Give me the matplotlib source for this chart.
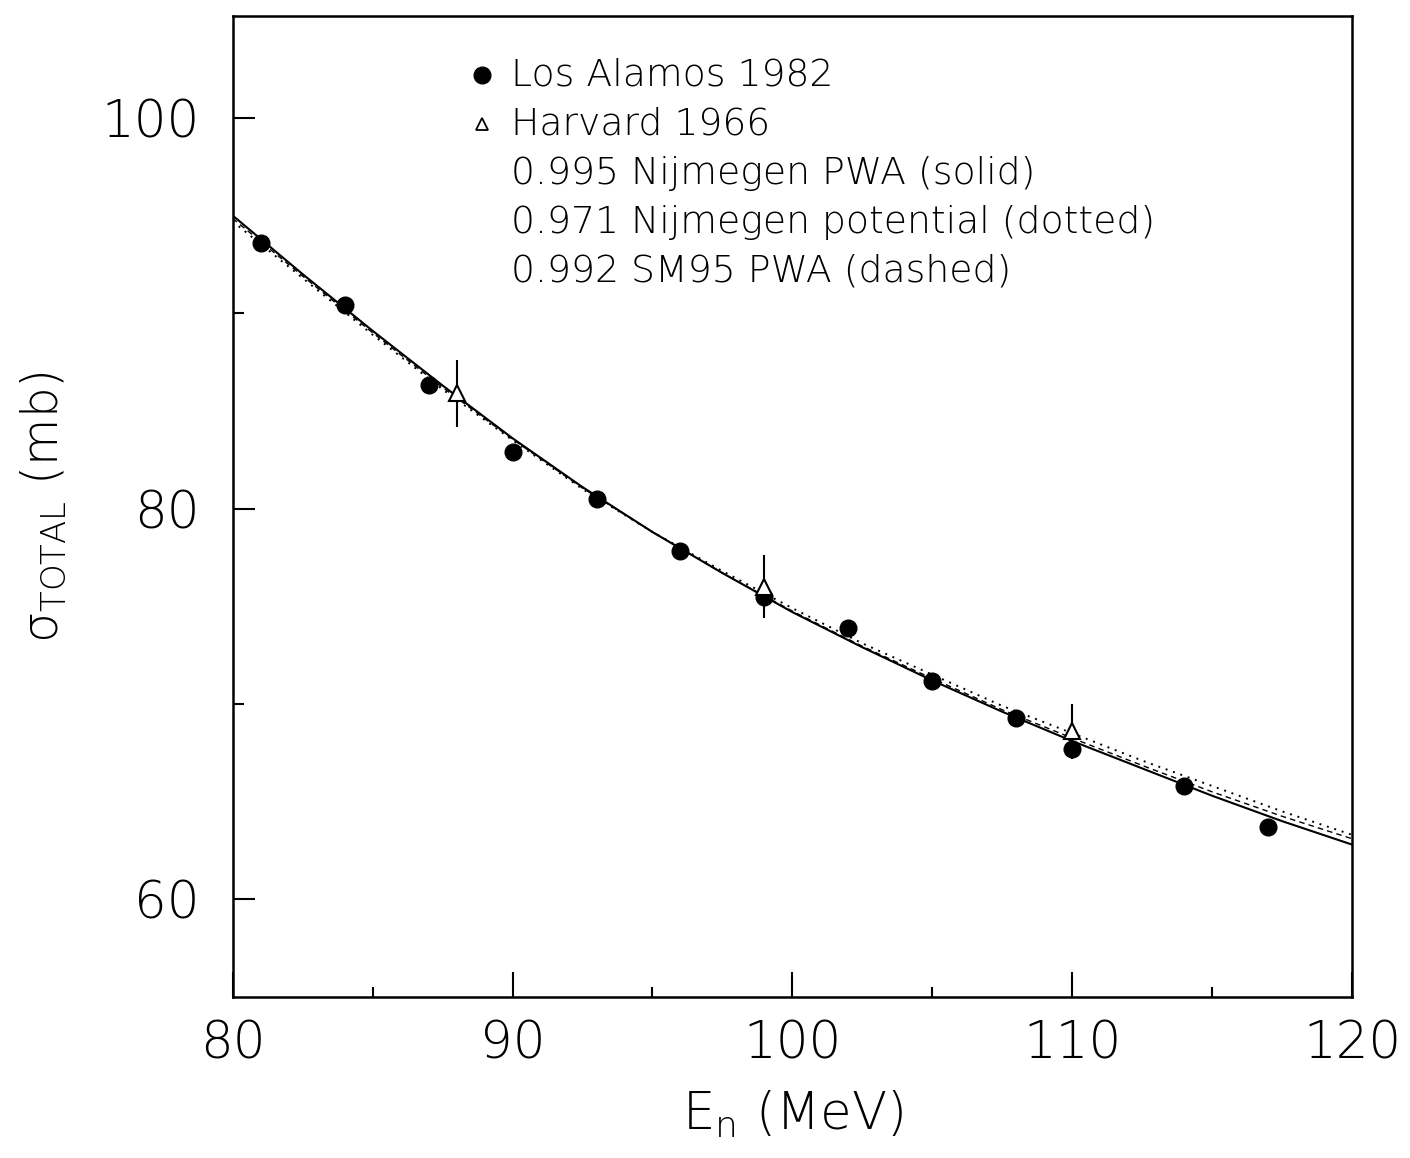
import numpy as np
import matplotlib
matplotlib.use("Agg")
import matplotlib.pyplot as plt
from matplotlib.ticker import MultipleLocator

# Los Alamos 1982 data
la_energy = [81, 84, 87, 90, 93, 96, 99, 102, 105, 108, 110, 114, 117]
la_sigma = [93.6, 90.4, 86.3, 82.9, 80.5, 77.85, 75.45, 73.9, 71.15, 69.3, 67.7, 65.8, 63.7]

# Harvard 1966 data
hv_energy = [88, 99, 110]
hv_sigma = [85.9, 76.0, 68.6]
hv_err = [1.7, 1.6, 1.4]

# model curves
curve_e = [80, 82.5, 85, 87.5, 90, 92.5, 95, 97.5, 100, 102.5, 105, 107.5, 110, 112.5, 115, 117.5, 120]
pwa_solid = [95.0, 92.0, 89.1, 86.3, 83.6, 81.1, 78.8, 76.7, 74.7, 72.9, 71.2, 69.6, 68.1, 66.7, 65.3, 64.0, 62.8]
pot_dotted = [94.7, 91.8, 88.9, 86.1, 83.5, 81.0, 78.8, 76.8, 74.9, 73.1, 71.5, 69.9, 68.5, 67.1, 65.8, 64.5, 63.3]
sm95_dashed = [94.85, 91.9, 89.0, 86.2, 83.55, 81.05, 78.8, 76.7, 74.75, 72.95, 71.3, 69.7, 68.25, 66.85, 65.5, 64.25, 63.1]

legend_lines = ["Los Alamos 1982", "Harvard 1966",
                "0.995 Nijmegen PWA (solid)",
                "0.971 Nijmegen potential (dotted)",
                "0.992 SM95 PWA (dashed)"]

plt.rcParams['font.weight'] = 'light'
plt.rcParams['axes.labelweight'] = 'light'
plt.rcParams['mathtext.fontset'] = 'custom'
plt.rcParams['mathtext.rm'] = 'DejaVu Sans:weight=light'
plt.rcParams['mathtext.it'] = 'DejaVu Sans:weight=light'

fig = plt.figure(figsize=(14.1, 11.58), dpi=100)
ax = fig.add_axes([0.165, 0.139, 0.794, 0.847])

ax.plot(curve_e, pwa_solid, color='black', lw=1.5, ls='-')
ax.plot(curve_e, pot_dotted, color='black', lw=1.4, ls=(0, (1, 3)))
ax.plot(curve_e, sm95_dashed, color='black', lw=1.0, ls=(0, (4, 3)))

ax.plot(la_energy, la_sigma, 'o', color='black', ms=12, zorder=5)
ax.errorbar(hv_energy, hv_sigma, yerr=hv_err, fmt='^', mfc='white', mec='black',
            ecolor='black', elinewidth=1.5, ms=11, mew=1.5, capsize=0, zorder=6)

ax.set_xlim(80, 120)
ax.set_ylim(55, 105.2)
ax.xaxis.set_major_locator(MultipleLocator(10))
ax.xaxis.set_minor_locator(MultipleLocator(5))
ax.yaxis.set_major_locator(MultipleLocator(20))
ax.yaxis.set_minor_locator(MultipleLocator(10))
ax.tick_params(axis='x', which='major', direction='in', length=18, width=1.5, labelsize=37, pad=16)
ax.tick_params(axis='x', which='minor', direction='in', length=7, width=1.5)
ax.tick_params(axis='y', which='major', direction='in', length=16, width=1.5, labelsize=37, pad=24)
ax.tick_params(axis='y', which='minor', direction='in', length=8, width=1.5)
for sp in ax.spines.values():
    sp.set_linewidth(1.8)

ax.set_xlabel(r'E$_\mathregular{n}$ (MeV)', fontsize=37, labelpad=14)
ax.set_ylabel(r'$\mathregular{\sigma}$$_\mathregular{TOTAL}$ (mb)', fontsize=35, labelpad=24)

# legend block
rows_y = [0.940, 0.890, 0.840, 0.790, 0.740]
ax.plot([0.223], [rows_y[0]], 'o', color='black', ms=12, transform=ax.transAxes)
ax.plot([0.223], [rows_y[1]], '^', mfc='white', mec='black', mew=1.3, ms=9, transform=ax.transAxes)
for yy, txt in zip(rows_y, legend_lines):
    ax.text(0.249, yy, txt, transform=ax.transAxes, fontsize=27.2, va='center', ha='left')

fig.savefig('out.png', dpi=100, facecolor='white')
